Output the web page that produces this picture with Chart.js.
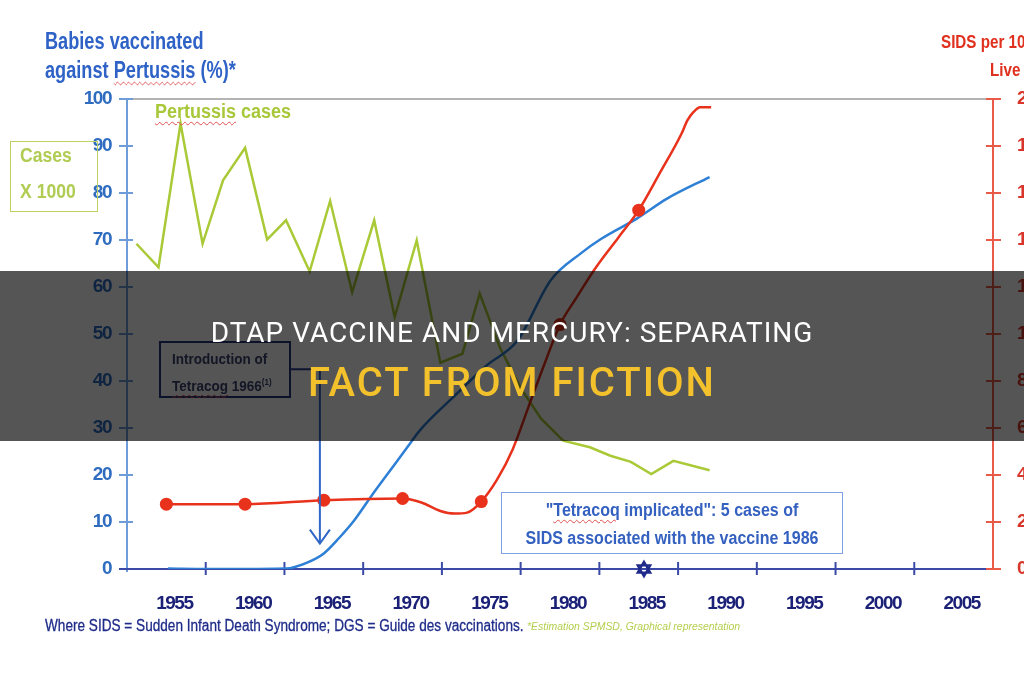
<!DOCTYPE html>
<html>
<head>
<meta charset="utf-8">
<title>Pertussis vaccination and SIDS</title>
<script src="https://cdn.jsdelivr.net/npm/chart.js@4.4.1/dist/chart.umd.min.js"></script>
<style>
  body { margin: 0; background: #fff; }
  #wrap {
    position: relative; width: 1024px; height: 680px; overflow: hidden; background: #fff;
    font-family: "Liberation Sans", Arial, sans-serif;
  }
  #chart { position: absolute; left: 0; top: 0; }
  .txt { position: absolute; white-space: nowrap; line-height: 1; font-weight: bold; transform-origin: left center; }
  .mid { transform-origin: center center; text-align: center; }
  .squiggle { text-decoration: underline wavy #e05050; text-decoration-thickness: 1px; text-underline-offset: 3px; }
  .box { position: absolute; box-sizing: border-box; }
  #banner {
    position: absolute; left: 0; top: 271px; width: 1024px; height: 170px;
    background: rgba(0, 0, 0, 0.665);
    font-family: Roboto, "Open Sans", sans-serif;
  }
  #banner div { position: absolute; left: 0; width: 1024px; text-align: center; line-height: 1; white-space: nowrap; }
</style>
</head>
<body>
<div id="wrap">
  <canvas id="chart" width="1024" height="680"></canvas>

  <div class="txt" style="left:45px; top:30px; font-size:23px; color:#2e62c6; transform:scaleX(0.79);">Babies vaccinated</div>
  <div class="txt" style="left:45px; top:59px; font-size:23px; color:#2e62c6; transform:scaleX(0.79);">against <span class="squiggle">Pertussis</span> (%)*</div>

  <div class="txt" style="left:941px; top:32px; font-size:19px; color:#e0301e; transform:scaleX(0.8);">SIDS per 100,000</div>
  <div class="txt" style="left:990px; top:60px; font-size:19px; color:#e0301e; transform:scaleX(0.8);">Live births</div>

  <div class="txt" style="left:155px; top:101px; font-size:20px; color:#a8c83a; transform:scaleX(0.9);"><span class="squiggle">Pertussis</span> cases</div>

  <div class="box" style="left:10px; top:141px; width:88px; height:71px; border:1.5px solid #bcd262;"></div>
  <div class="txt" style="left:20px; top:145px; font-size:20px; color:#b0cc52; transform:scaleX(0.88);">Cases</div>
  <div class="txt" style="left:20px; top:181px; font-size:20px; color:#b0cc52; transform:scaleX(0.88);">X 1000</div>

  <div class="box" style="left:159px; top:341px; width:132px; height:57px; border:2px solid #26367e;"></div>
  <div class="txt" style="left:172px; top:351px; font-size:15px; color:#3b4470; transform:scaleX(0.9);">Introduction of</div>
  <div class="txt" style="left:172px; top:378px; font-size:15px; color:#3b4470; transform:scaleX(0.9);"><span class="squiggle">Tetracog</span> 1966<sup style="font-size:9px;">(1)</sup></div>

  <div class="box" style="left:501px; top:492px; width:342px; height:62px; border:1.5px solid #7ea2e2;"></div>
  <div class="txt mid" style="left:501px; top:501px; width:342px; font-size:18px; color:#3461c0; transform:scaleX(0.89);">"<span class="squiggle">Tetracoq</span> implicated": 5 cases of</div>
  <div class="txt mid" style="left:501px; top:529px; width:342px; font-size:18px; color:#3461c0; transform:scaleX(0.89);">SIDS associated with the vaccine 1986</div>

  <div class="txt" style="left:632px; top:558px; width:24px; height:24px; line-height:24px; text-align:center; font-family:'DejaVu Sans', sans-serif; font-weight:bold; font-size:22px; color:#1f2a8a; -webkit-text-stroke:1.2px #1f2a8a;">✡</div>

  <div class="txt" style="left:45px; top:618px; font-size:16px; font-weight:normal; color:#1f2c8a; -webkit-text-stroke:0.3px #1f2c8a; transform:scaleX(0.85);">Where SIDS = Sudden Infant Death Syndrome; DGS = Guide des vaccinations.</div>
  <div class="txt" style="left:527px; top:621px; font-size:11px; font-weight:normal; font-style:italic; color:#b4cf4e; transform:scaleX(0.95);">*Estimation SPMSD, Graphical representation</div>

  <div id="banner">
    <div style="top:48px; font-size:28px; letter-spacing:1px; color:#ffffff;">DTAP VACCINE AND MERCURY: SEPARATING</div>
    <div style="top:92px; font-size:40px; font-weight:500; letter-spacing:2px; color:#f2c12c;">FACT FROM FICTION</div>
  </div>
</div>

<script>
// x axis labels (years)
const xLabelYears = [1955, 1960, 1965, 1970, 1975, 1980, 1985, 1990, 1995, 2000, 2005];

// Babies vaccinated against pertussis (%), left axis
const vaccYears = [1955.1, 1957.6, 1959.2, 1962.6, 1963.9, 1965.0, 1966.0, 1966.9, 1968.1, 1969.2, 1970.3,
  1971.1, 1973.2, 1975.3, 1977.3, 1979.4, 1981.3, 1982.6, 1984.9, 1986.8, 1989.5];
const vaccValues = [0.1, 0, 0, 0.1, 1.3, 3.3, 6.7, 10.2, 15.9, 20.9, 25.9,
  29.5, 36.5, 43.2, 48.6, 61.4, 67.1, 70.2, 74.6, 78.8, 83.4];

// Pertussis cases (x 1000), left axis
const casesYears = [1953.1, 1954.5, 1955.9, 1957.3, 1958.6, 1960.0, 1961.4, 1962.6, 1964.1, 1965.4, 1966.8,
  1968.2, 1969.5, 1970.9, 1972.4, 1973.8, 1974.9, 1976.2, 1977.5, 1978.8, 1980.2, 1981.9, 1983.2, 1984.5,
  1985.8, 1987.2, 1989.5];
const casesValues = [69.2, 64.2, 94.8, 69.2, 82.7, 89.6, 70.1, 74.2, 63.3, 78.3, 58.9,
  74.2, 53.6, 69.9, 43.9, 45.8, 58.6, 47.0, 38.5, 32.0, 27.3, 25.9, 24.1, 22.8,
  20.2, 23.0, 21.0];

// SIDS rate, right axis
const sidsYears = [1955, 1960, 1965, 1970, 1971.2, 1972.4, 1973.3, 1974.1, 1975, 1976, 1977, 1978, 1979, 1980,
  1981, 1982.3, 1983.7, 1985, 1986.3, 1987.7, 1988.1, 1988.5, 1988.9, 1989.6];
const sidsValues = [2.76, 2.76, 2.93, 3.0, 2.83, 2.47, 2.36, 2.4, 2.87, 3.8, 5.1, 6.9, 8.7, 10.4,
  11.5, 12.85, 14.1, 15.27, 16.8, 18.5, 19.1, 19.46, 19.65, 19.65];
const sidsMarkers = [1955, 1960, 1965, 1970, 1975, 1980, 1985];

// arrow from the "Introduction of Tetracog" box
const arrowYear = 1964.75;
const arrowFrom = 42.5;
const arrowTo = 5.4;

const labelFont = "'Liberation Sans', Arial, sans-serif";

function seg(ctx, x1, y1, x2, y2, color, w) {
  ctx.beginPath();
  ctx.strokeStyle = color;
  ctx.lineWidth = w;
  ctx.moveTo(x1, y1);
  ctx.lineTo(x2, y2);
  ctx.stroke();
}

const axisPlugin = {
  id: "axisLines",
  beforeDraw(chart) {
    // narrow the bold tick labels like the original condensed face
    chart.ctx.letterSpacing = "-1.5px";
  },
  beforeDatasetsDraw(chart) {
    const { ctx, chartArea: a, scales: { x, y, y2 } } = chart;
    ctx.save();
    seg(ctx, a.left, a.top, a.right, a.top, "#b4b4b4", 2);
    seg(ctx, a.left, a.top, a.left, a.bottom + 3, "#6d9cd8", 2);
    y.ticks.forEach(t => {
      const p = y.getPixelForValue(t.value);
      seg(ctx, a.left - 8, p, a.left + 6, p, "#6d9cd8", 2);
    });
    seg(ctx, a.right, a.top, a.right, a.bottom, "#ea5a48", 2);
    y2.ticks.forEach(t => {
      const p = y2.getPixelForValue(t.value);
      seg(ctx, a.right - 7, p, a.right + 8, p, "#ea5a48", 2);
    });
    seg(ctx, a.left - 8, a.bottom, a.right - 7, a.bottom, "#3b4aa6", 2);
    xLabelYears.slice(0, -1).forEach(v => {
      const p = x.getPixelForValue(v + 2.5);
      seg(ctx, p, a.bottom - 7, p, a.bottom + 6, "#3b4aa6", 2);
    });
    ctx.restore();
  },
  afterDatasetsDraw(chart) {
    const { ctx, scales: { x, y } } = chart;
    const ax = x.getPixelForValue(arrowYear);
    const top = y.getPixelForValue(arrowFrom);
    const tip = y.getPixelForValue(arrowTo);
    ctx.save();
    seg(ctx, 291, top, ax, top, "#2b3d90", 2);
    seg(ctx, ax, top, ax, tip, "#2f66c8", 2);
    ctx.beginPath();
    ctx.moveTo(ax - 10, tip - 14);
    ctx.lineTo(ax, tip);
    ctx.lineTo(ax + 10, tip - 14);
    ctx.stroke();
    ctx.restore();
  },
  afterDraw(chart) {
    chart.ctx.letterSpacing = "0px";
  }
};

const toPoints = (xs, ys) => xs.map((v, i) => ({ x: v, y: ys[i] }));

new Chart(document.getElementById("chart"), {
  type: "line",
  data: {
    datasets: [
      {
        label: "SIDS",
        data: toPoints(sidsYears, sidsValues),
        yAxisID: "y2",
        borderColor: "#e8321c",
        backgroundColor: "#e8321c",
        borderWidth: 2.5,
        cubicInterpolationMode: "monotone",
        pointRadius: c => sidsMarkers.includes(sidsYears[c.dataIndex]) ? 6.5 : 0,
        pointBorderWidth: 0,
        pointBackgroundColor: "#e8321c"
      },
      {
        label: "Babies vaccinated",
        data: toPoints(vaccYears, vaccValues),
        yAxisID: "y",
        borderColor: "#2e7fd6",
        borderWidth: 2.5,
        cubicInterpolationMode: "monotone",
        pointRadius: 0
      },
      {
        label: "Pertussis cases",
        data: toPoints(casesYears, casesValues),
        yAxisID: "y",
        borderColor: "#a9c937",
        borderWidth: 2.5,
        tension: 0,
        pointRadius: 0
      }
    ]
  },
  options: {
    responsive: false,
    animation: false,
    layout: { padding: { top: 99, left: 0, right: 0, bottom: 0 } },
    plugins: { legend: { display: false }, tooltip: { enabled: false } },
    scales: {
      x: {
        type: "linear",
        min: 1952.5,
        max: 2007.5,
        afterBuildTicks: s => { s.ticks = xLabelYears.map(v => ({ value: v })); },
        afterFit: s => { s.height = 111; },
        grid: { display: false, drawTicks: false },
        border: { display: false },
        ticks: {
          autoSkip: false,
          maxRotation: 0,
          padding: 23,
          labelOffset: 8,
          color: "#1c2178",
          font: { family: labelFont, size: 19, weight: "bold" },
          callback: v => String(v)
        }
      },
      y: {
        position: "left",
        min: 0,
        max: 100,
        afterFit: s => { s.width = 127; },
        grid: { display: false, drawTicks: false },
        border: { display: false },
        ticks: {
          stepSize: 10,
          padding: 16,
          color: "#2f6cc0",
          font: { family: labelFont, size: 19, weight: "bold" }
        }
      },
      y2: {
        position: "right",
        min: 0,
        max: 20,
        afterFit: s => { s.width = 31; },
        grid: { display: false, drawTicks: false },
        border: { display: false },
        ticks: {
          stepSize: 2,
          padding: 24,
          color: "#d8362a",
          font: { family: labelFont, size: 19, weight: "bold" }
        }
      }
    }
  },
  plugins: [axisPlugin]
});
</script>
</body>
</html>
